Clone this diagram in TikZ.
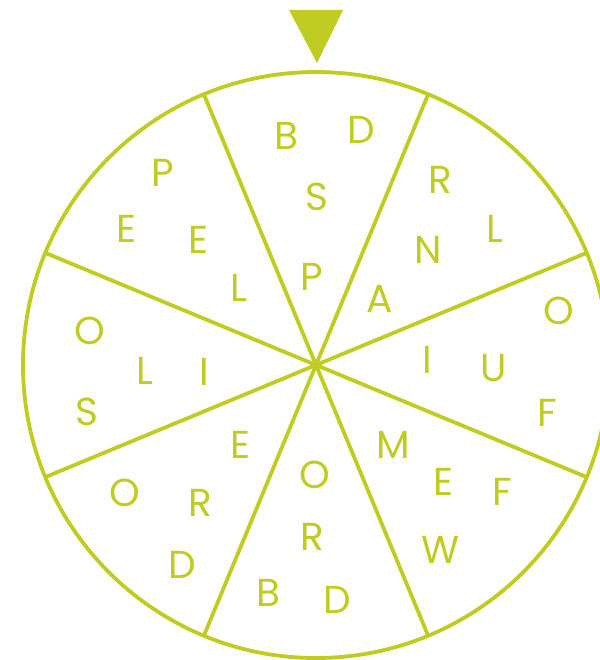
\documentclass[tikz,border=0pt]{standalone}
\usepackage{fontspec}
\setmainfont{Poppins}
\usepackage{tikz}
\usetikzlibrary{calc}
\definecolor{wheelgreen}{RGB}{192,204,34}
\tikzset{
  letter/.style = {text=wheelgreen, inner sep=0pt, font=\fontsize{39}{39}\selectfont},
  rim/.style = {draw=wheelgreen, line width=3.8pt},
}

\begin{document}
\begin{tikzpicture}[x=1pt, y=-1pt]
    \useasboundingbox (0,0) rectangle (599,660);
    \coordinate (hub) at (316,365);

    % wheel and spokes
    \draw [rim] (hub) circle (293pt);
    \foreach \a in {22.5,67.5,112.5,157.5}
        \draw [rim] ($(hub)+(\a:293pt)$) -- ($(hub)+(\a+180:293pt)$);

    % pointer
    \fill [wheelgreen] (289,10) -- (343,10) -- (317,63) -- cycle;

    % top sector
    \node [letter] (t1) at (286,136) {B};
    \node [letter] (t2) at (361,130) {D};
    \node [letter] (t3) at (317,197) {S};
    \node [letter] (t4) at (312,277) {P};
    % upper right
    \node [letter] (ur1) at (440,180) {R};
    \node [letter] (ur2) at (495,229) {L};
    \node [letter] (ur3) at (428,250) {N};
    \node [letter] (ur4) at (380,299) {A};
    % right
    \node [letter] (r1) at (559,311) {O};
    \node [letter] (r2) at (427,360) {I};
    \node [letter] (r3) at (494,368) {U};
    \node [letter] (r4) at (547,413) {F};
    % lower right
    \node [letter] (lr1) at (393,445) {M};
    \node [letter] (lr2) at (443,482) {E};
    \node [letter] (lr3) at (502,492) {F};
    \node [letter] (lr4) at (441,550) {W};
    % bottom
    \node [letter] (b1) at (315,475) {O};
    \node [letter] (b2) at (312,537) {R};
    \node [letter] (b3) at (268,593) {B};
    \node [letter] (b4) at (337,600) {D};
    % lower left
    \node [letter] (ll1) at (240,445) {E};
    \node [letter] (ll2) at (125,493) {O};
    \node [letter] (ll3) at (200,503) {R};
    \node [letter] (ll4) at (182,565) {D};
    % left
    \node [letter] (l1) at (90,331) {O};
    \node [letter] (l2) at (145,371) {L};
    \node [letter] (l3) at (204,372) {I};
    \node [letter] (l4) at (87,412) {S};
    % upper left
    \node [letter] (ul1) at (163,173) {P};
    \node [letter] (ul2) at (127,229) {E};
    \node [letter] (ul3) at (198,240) {E};
    \node [letter] (ul4) at (239,288) {L};
\end{tikzpicture}
\end{document}
